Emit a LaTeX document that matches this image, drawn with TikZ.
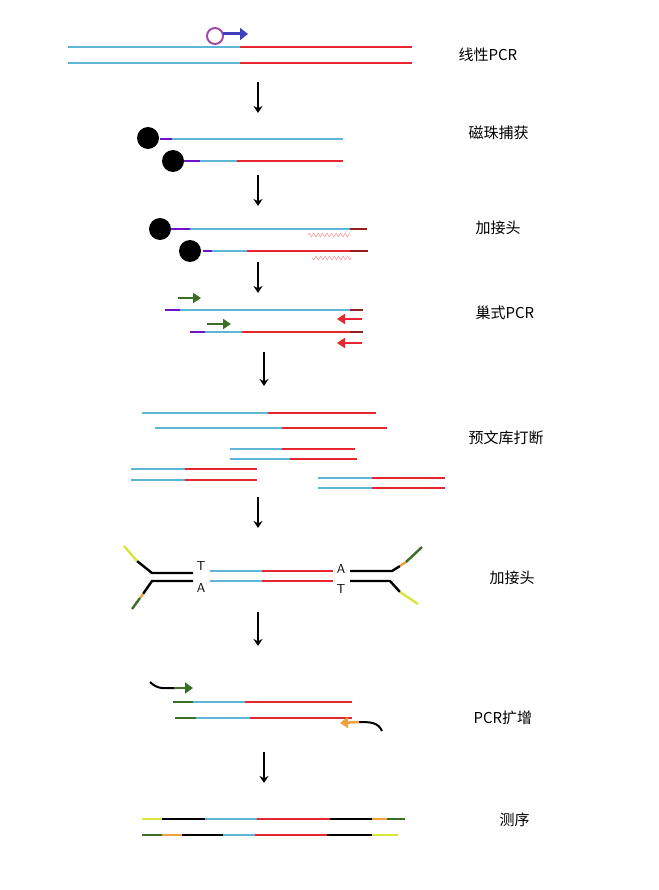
\documentclass[tikz,border=0pt]{standalone}
\usepackage{fontspec}
\newfontfamily\cjk{Noto Sans CJK SC}
\usetikzlibrary{positioning,arrows.meta,decorations.pathmorphing}
\definecolor{dnacyan}{RGB}{94,182,214}
\definecolor{dnared}{RGB}{232,38,48}
\definecolor{dnadark}{RGB}{150,30,30}
\definecolor{linkpurple}{RGB}{110,20,200}
\definecolor{primgreen}{RGB}{60,110,40}
\definecolor{primorange}{RGB}{240,160,60}
\definecolor{adyellow}{RGB}{215,230,60}
\tikzset{>=stealth,
  strand/.style={line width=2.4pt},
  flow/.style={->,line width=2pt,>={Stealth[length=7pt,width=9pt]}},
  lab/.style={font=\cjk\fontsize{15}{18}\selectfont,anchor=west},
  bead/.style={fill=black}}
% strand: y, list of x0/x1/colour
\newcommand\dna[2]{\foreach \a/\b/\c in {#2} \draw[strand,\c] (\a,#1) -- (\b,#1);}

\begin{document}
\begin{tikzpicture}[x=1pt,y=-1pt]
\useasboundingbox (0,0) rectangle (658,890);
% labels
\node[lab] (l1) at (455,55) {线性PCR};
\node[lab] (l2) at (465,133) {磁珠捕获};
\node[lab] (l3) at (472,228) {加接头};
\node[lab] (l4) at (472,313) {巢式PCR};
\node[lab] (l5) at (465,438) {预文库打断};
\node[lab] (l6) at (486,578) {加接头};
\node[lab] (l7) at (470,718) {PCR扩增};
\node[lab] (l8) at (496,820) {测序};
% step arrows
\foreach \x/\ya/\yb [count=\i] in {258/82/113,258/175/206,258/262/293,264/352/386,258/497/528,258/612/646,264/752/783}
  \draw[flow] (\x,\ya) coordinate (s\i) -- (\x,\yb) coordinate (e\i);
% linear PCR
\dna{47}{68/240/dnacyan,240/412/dnared}
\dna{63}{68/240/dnacyan,240/412/dnared}
\draw[line width=2pt,violet!70] (215,36) circle[radius=8];
\draw[line width=3pt,blue!50!gray,-{Triangle[length=8pt,width=12pt]}] (223,34) -- (248,34);
% bead capture
\dna{139}{160/172/linkpurple,172/343/dnacyan}
\dna{161}{184/200/linkpurple,200/237/dnacyan,237/343/dnared}
\fill[bead] (148,138) circle[radius=11] (173,161) circle[radius=11];
% adapter ligation
\dna{229}{171/190/linkpurple,190/350/dnacyan,350/367/dnadark}
\dna{251}{203/212/linkpurple,212/247/dnacyan,247/350/dnared,350/368/dnadark}
\fill[bead] (160,229) circle[radius=11] (190,251) circle[radius=11];
\draw[red!50,decorate,decoration={zigzag,amplitude=2pt,segment length=4.5pt}] (308,235) -- (350,235) (312,258) -- (352,258);
% nested PCR
\dna{310}{165/180/linkpurple,180/350/dnacyan,350/363/dnadark}
\dna{332}{190/205/linkpurple,205/242/dnacyan,242/350/dnared,350/363/dnadark}
\draw[line width=2.5pt,primgreen,-{Triangle[length=8pt,width=10pt]}] (178,298) -- (201,298);
\draw[line width=2.5pt,primgreen,-{Triangle[length=8pt,width=10pt]}] (207,324) -- (231,324);
\draw[line width=2.5pt,dnared,-{Triangle[length=8pt,width=10pt]}] (362,319) -- (337,319);
\draw[line width=2.5pt,dnared,-{Triangle[length=8pt,width=10pt]}] (362,343) -- (337,343);
% fragmentation
\dna{413}{142/268/dnacyan,268/376/dnared}
\dna{428}{155/282/dnacyan,282/387/dnared}
\dna{449}{230/282/dnacyan,282/355/dnared}
\dna{459}{230/290/dnacyan,290/357/dnared}
\dna{469}{131/185/dnacyan,185/257/dnared}
\dna{480}{131/185/dnacyan,185/257/dnared}
\dna{478}{318/372/dnacyan,372/445/dnared}
\dna{488}{318/372/dnacyan,372/445/dnared}
% Y adapters
\dna{571}{210/262/dnacyan,262/333/dnared}
\dna{581}{210/262/dnacyan,262/333/dnared}
\draw[strand,black] (193,573) -- (152,573) -- (137,561);
\draw[strand,adyellow] (137,561) -- (124,546);
\draw[strand,black] (193,581) -- (152,581) -- (143,594);
\draw[strand,primorange] (143,594) -- (140,598);
\draw[strand,primgreen] (140,598) -- (132,609);
\draw[strand,black] (350,571) -- (392,571) -- (400,566);
\draw[strand,primorange] (400,566) -- (406,562);
\draw[strand,primgreen] (406,562) -- (422,547);
\draw[strand,black] (350,581) -- (390,581) -- (400,592);
\draw[strand,adyellow] (400,592) -- (418,604);
\node[font=\sffamily\fontsize{13}{14}\selectfont] (t1) at (201,566) {T};
\node[font=\sffamily\fontsize{13}{14}\selectfont] (a1) at (201,588) {A};
\node[font=\sffamily\fontsize{13}{14}\selectfont] (a2) at (341,569) {A};
\node[font=\sffamily\fontsize{13}{14}\selectfont] (t2) at (341,589) {T};
% PCR amplification
\dna{702}{173/193/primgreen,193/245/dnacyan,245/352/dnared}
\dna{718}{175/196/primgreen,196/250/dnacyan,250/352/dnared}
\draw[line width=2pt,black] (150,682) .. controls (158,690) and (165,688) .. (175,688);
\draw[line width=2.5pt,primgreen,-{Triangle[length=8pt,width=11pt]}] (174,688) -- (193,688);
\draw[line width=2pt,black] (382,731) .. controls (378,722) and (370,722) .. (358,722);
\draw[line width=2.5pt,primorange,-{Triangle[length=8pt,width=11pt]}] (359,722) -- (340,723);
% sequencing
\dna{819}{142/162/adyellow,162/205/black,205/257/dnacyan,257/330/dnared,330/372/black,372/387/primorange,387/405/primgreen}
\dna{835}{142/162/primgreen,162/182/primorange,182/223/black,223/255/dnacyan,255/327/dnared,327/372/black,372/398/adyellow}
\end{tikzpicture}
\end{document}
